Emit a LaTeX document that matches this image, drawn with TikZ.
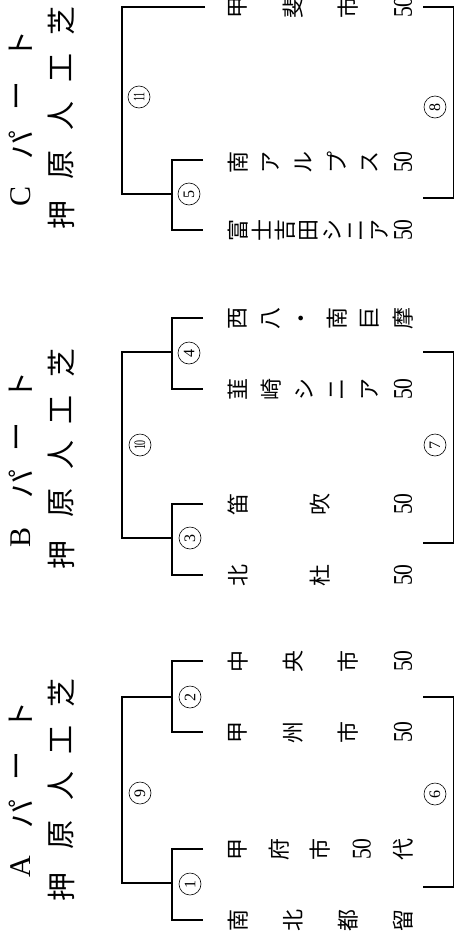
\documentclass[tikz,border=0pt]{standalone}
\usepackage{fontspec}
\usepackage{graphicx}
\setmainfont{Liberation Serif}
\newfontfamily\jpfont{Noto Sans CJK JP}

% 50 set across inside a vertical name
\newcommand{\tcy}{{\rmfamily\fontsize{27}{27}\selectfont\scalebox{0.8}[1]{50}}}
% game number, two digits squeezed
\newcommand{\gno}[1]{\scalebox{0.62}[1]{#1}}

% team name: characters spread evenly from x=238 to x=403
\newcommand{\teamname}[4]{%
  \foreach \ch [count=\i from 0] in {#4}
    \node[teamchar] (#1-\i) at ({238+\i*165/(#3-1)},#2) {\ch};
}

\begin{document}
\begin{tikzpicture}[x=1pt,y=-1pt,
		bracket/.style={line width=1.3pt},
		titlechar/.style={rotate=90,inner sep=0pt,font=\jpfont\fontsize{29}{29}\selectfont},
		titleletter/.style={rotate=90,inner sep=0pt,font=\fontsize{30}{30}\selectfont},
		teamchar/.style={rotate=90,inner sep=0pt,font=\jpfont\fontsize{22}{22}\selectfont},
		game/.style={rotate=90,circle,draw,line width=0.6pt,minimum size=22pt,inner sep=0pt,
			font=\fontsize{16}{16}\selectfont}]
		\useasboundingbox (0,0) rectangle (454,937);
		\clip (0,0) rectangle (454,937);

		% C part
		\node[titleletter] (cpart) at (21,196) {C};
		\foreach \ch/\y [count=\i] in {パ/145, ー/96, ト/45}
			\node[titlechar] (cpart\i) at (21,\y) {\ch};
		\foreach \ch/\y [count=\i] in {押/215, 原/165, 人/116, 工/68, 芝/21}
			\node[titlechar] (cfield\i) at (61,\y) {\ch};

		\draw[bracket] (205,7) -| (122,194) -- (172,194);
		\draw[bracket] (203,160) -| (172,230) -- (203,230);
		\draw[bracket] (423,7) -| (453.3,198) -- (423,198);
		\node[game] (g11) at (139,97) {\gno{11}};
		\node[game] (g5) at (189,194) {5};
		\node[game] (g8) at (435,107) {8};

		\teamname{c1}{7}{4}{甲,斐,市,\tcy}
		\teamname{c2}{162}{6}{南,ア,ル,プ,ス,\tcy}
		\teamname{c3}{230}{8}{富,士,吉,田,シ,ニ,ア,\tcy}

		% B part
		\node[titleletter] (bpart) at (21,537) {B};
		\foreach \ch/\y [count=\i] in {パ/484, ー/437, ト/386}
			\node[titlechar] (bpart\i) at (21,\y) {\ch};
		\foreach \ch/\y [count=\i] in {押/555, 原/503, 人/455, 工/410, 芝/363}
			\node[titlechar] (bfield\i) at (61,\y) {\ch};

		\draw[bracket] (172,352) -| (122,538) -- (172,538);
		\draw[bracket] (203,318) -| (172,389) -- (203,389);
		\draw[bracket] (203,504) -| (172,575) -- (203,575);
		\draw[bracket] (423,352) -| (453.3,543) -- (423,543);
		\node[game] (g10) at (140,445) {\gno{10}};
		\node[game] (g4) at (189,353) {4};
		\node[game] (g3) at (190,538) {3};
		\node[game] (g7) at (435,445) {7};

		\teamname{b1}{318}{6}{西,八,・,南,巨,摩}
		\teamname{b2}{389}{6}{韮,崎,シ,ニ,ア,\tcy}
		\teamname{b3}{504}{3}{笛,吹,\tcy}
		\teamname{b4}{575}{3}{北,杜,\tcy}

		% A part
		\node[titleletter] (apart) at (21,867) {A};
		\foreach \ch/\y [count=\i] in {パ/814, ー/766, ト/716}
			\node[titlechar] (apart\i) at (21,\y) {\ch};
		\foreach \ch/\y [count=\i] in {押/887, 原/835, 人/786, 工/740, 芝/693}
			\node[titlechar] (afield\i) at (61,\y) {\ch};

		\draw[bracket] (172,697) -| (122,883) -- (172,883);
		\draw[bracket] (203,661) -| (172,732) -- (203,732);
		\draw[bracket] (203,849) -| (172,920) -- (203,920);
		\draw[bracket] (423,697) -| (453.3,887) -- (423,887);
		\node[game] (g9) at (140,793) {9};
		\node[game] (g2) at (190,697) {2};
		\node[game] (g1) at (190,884) {1};
		\node[game] (g6) at (435,794) {6};

		\teamname{a1}{661}{4}{中,央,市,\tcy}
		\teamname{a2}{732}{4}{甲,州,市,\tcy}
		\teamname{a3}{849}{5}{甲,府,市,\tcy,代}
		\teamname{a4}{920}{4}{南,北,都,留}
	\end{tikzpicture}
\end{document}
